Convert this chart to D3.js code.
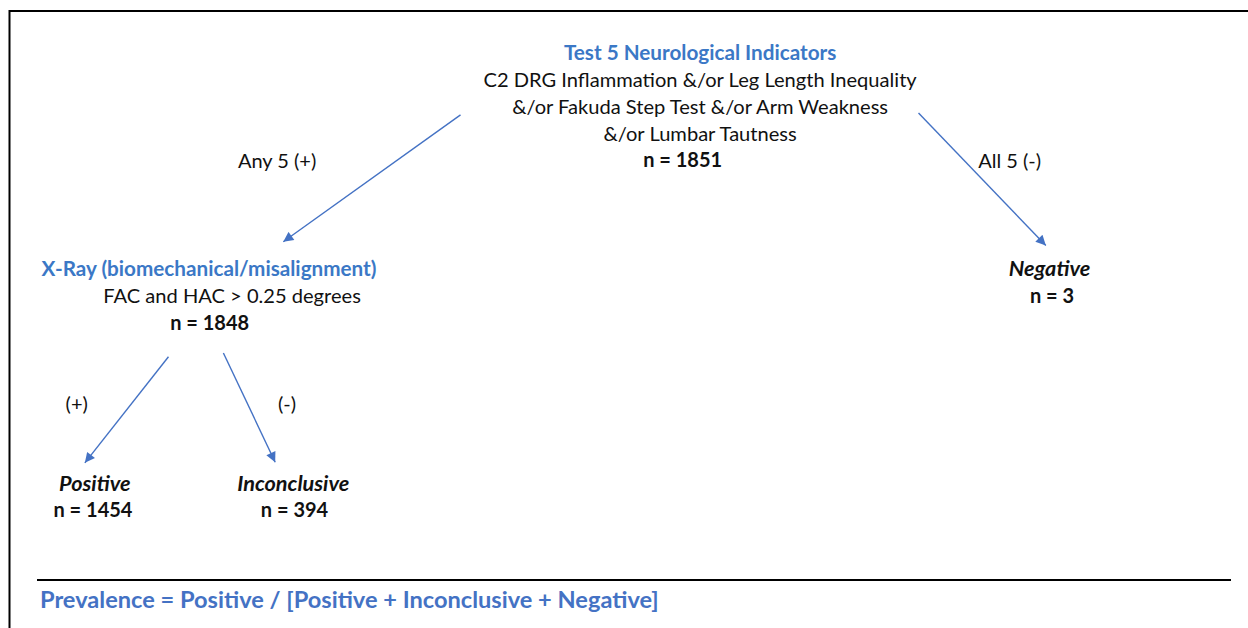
<!DOCTYPE html>
<html>
<head>
<meta charset="utf-8">
<script src="https://cdn.jsdelivr.net/npm/d3@7"></script>
<style>
  html, body { margin: 0; padding: 0; background: #fff; }
  svg { display: block; font-family: Lato, "Open Sans", sans-serif; }
</style>
</head>
<body>
<svg id="chart" width="1248" height="628"></svg>
<script>
// flow steps and their counts
const nodeIds = ["root", "xray", "negative", "positive", "inconclusive"]
const nodeTitles = [
  "Test 5 Neurological Indicators",
  "X-Ray (biomechanical/misalignment)",
  "Negative",
  "Positive",
  "Inconclusive"
]
const nodeDetails = [
  ["C2 DRG Inflammation &/or Leg Length Inequality", "&/or Fakuda Step Test &/or Arm Weakness", "&/or Lumbar Tautness"],
  ["FAC and HAC > 0.25 degrees"],
  [],
  [],
  []
]
const nodeCounts = [1851, 1848, 3, 1454, 394]

// branches between steps
const edgeFrom = ["root", "root", "xray", "xray"]
const edgeTo = ["xray", "negative", "positive", "inconclusive"]
const edgeLabels = ["Any 5 (+)", "All 5 (-)", "(+)", "(-)"]

const footerText = "Prevalence = Positive / [Positive + Inconclusive + Negative]"

// ---- layout (in a 0..100 grid, mapped through scales) ----
const W = 1248, H = 628
const x = d3.scaleLinear().domain([0, 100]).range([0, W])
const y = d3.scaleLinear().domain([0, 100]).range([0, H])

const layout = {
  root:         { title: [56.1, 8.3], lines: [56.1, 12.6], count: [54.7, 25.3], titleStyle: "head", out: [[36.9, 18.3], [73.6, 18.0]] },
  xray:         { title: [16.75, 42.7], lines: [18.6, 47.0], count: [16.8, 51.3], titleStyle: "head", in: [22.7, 38.5], out: [[13.5, 56.8], [17.9, 56.2]] },
  negative:     { title: [84.1, 42.6], count: [84.3, 46.9], titleStyle: "italic", in: [83.8, 39.1] },
  positive:     { title: [7.6, 76.9], count: [7.45, 81.1], titleStyle: "italic", in: [6.8, 73.7] },
  inconclusive: { title: [23.5, 76.9], count: [23.6, 81.1], titleStyle: "italic", in: [22.05, 73.6] }
}
const edgeLabelPos = [[22.2, 25.5], [80.9, 25.5], [6.15, 64.2], [23.0, 64.2]]
const lineGap = 4.25 // percent of height

const svg = d3.select("#chart")
const blueHead = "#3b78c6"
const blueLine = "#4472c4"
const ink = "#111"

// frame
svg.append("line")
  .attr("x1", 9).attr("x2", W).attr("y1", 11).attr("y2", 11)
  .attr("stroke", "#000").attr("stroke-width", 2)
svg.append("line")
  .attr("x1", 9.5).attr("x2", 9.5).attr("y1", 10).attr("y2", H)
  .attr("stroke", "#000").attr("stroke-width", 2)

// arrow marker
svg.append("defs").append("marker")
  .attr("id", "arrow")
  .attr("viewBox", "0 0 10 10")
  .attr("refX", 10).attr("refY", 5)
  .attr("markerUnits", "userSpaceOnUse")
  .attr("markerWidth", 12).attr("markerHeight", 10)
  .attr("orient", "auto")
  .append("path")
  .attr("d", "M0,0 L10,5 L0,10 Z")
  .attr("fill", blueLine)

// edges
edgeFrom.forEach((from, i) => {
  const src = layout[from]
  const outIdx = edgeFrom.slice(0, i).filter(f => f === from).length
  const start = src.out[outIdx]
  const end = layout[edgeTo[i]].in
  svg.append("line")
    .attr("x1", x(start[0])).attr("y1", y(start[1]))
    .attr("x2", x(end[0])).attr("y2", y(end[1]))
    .attr("stroke", blueLine)
    .attr("stroke-width", 1.4)
    .attr("marker-end", "url(#arrow)")

  svg.append("text")
    .attr("x", x(edgeLabelPos[i][0]))
    .attr("y", y(edgeLabelPos[i][1]))
    .attr("text-anchor", "middle")
    .attr("dominant-baseline", "central")
    .style("font-size", "20px")
    .style("fill", ink)
    .text(edgeLabels[i])
})

// nodes
nodeIds.forEach((id, i) => {
  const pos = layout[id]
  const head = pos.titleStyle === "head"
  svg.append("text")
    .attr("x", x(pos.title[0]))
    .attr("y", y(pos.title[1]))
    .attr("text-anchor", "middle")
    .attr("dominant-baseline", "central")
    .style("font-size", head ? "20.7px" : "21.7px")
    .style("font-weight", "bold")
    .style("font-style", head ? "normal" : "italic")
    .style("fill", head ? blueHead : ink)
    .text(nodeTitles[i])

  nodeDetails[i].forEach((line, j) => {
    svg.append("text")
      .attr("x", x(pos.lines[0]))
      .attr("y", y(pos.lines[1] + j * lineGap))
      .attr("text-anchor", "middle")
      .attr("dominant-baseline", "central")
      .style("font-size", "20.1px")
      .style("fill", ink)
      .text(line)
  })

  svg.append("text")
    .attr("x", x(pos.count[0]))
    .attr("y", y(pos.count[1]))
    .attr("text-anchor", "middle")
    .attr("dominant-baseline", "central")
    .style("font-size", "20px")
    .style("font-weight", "bold")
    .style("fill", ink)
    .text(`n = ${nodeCounts[i]}`)
})

// footer
svg.append("line")
  .attr("x1", 37).attr("x2", 1231).attr("y1", 580).attr("y2", 580)
  .attr("stroke", "#000").attr("stroke-width", 2)
svg.append("text")
  .attr("x", 40)
  .attr("y", 599)
  .attr("dominant-baseline", "central")
  .style("font-size", "23.6px")
  .style("font-weight", "bold")
  .style("fill", blueLine)
  .text(footerText)
</script>
</body>
</html>
